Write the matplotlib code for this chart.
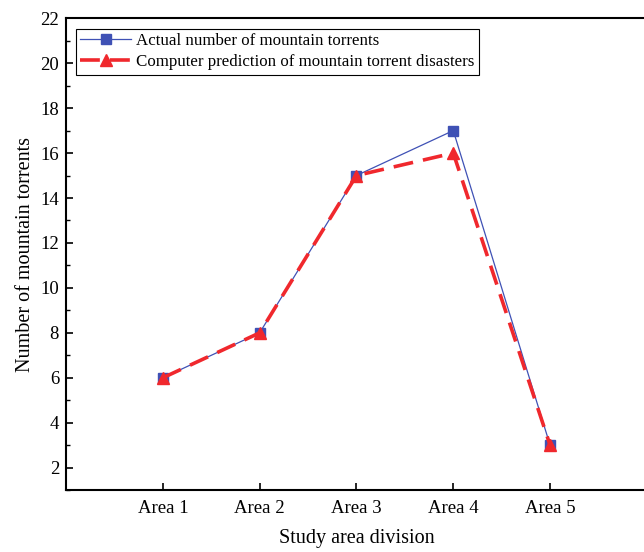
import matplotlib.pyplot as plt
from matplotlib.ticker import MultipleLocator

plt.rcParams['font.family'] = ['Liberation Serif', 'DejaVu Serif']

areas = ['Area 1', 'Area 2', 'Area 3', 'Area 4', 'Area 5']
actual = [6, 8, 15, 17, 3]
predicted = [6, 8, 15, 16, 3]

fig = plt.figure(figsize=(6.44, 5.52), dpi=100)
ax = fig.add_axes([0.1025, 0.112, 0.902, 0.855])

x = list(range(1, len(areas) + 1))
ax.plot(x, actual, color='#3f51b5', lw=0.9, marker='s', ms=7,
        label='Actual number of mountain torrents')
ax.plot(x, predicted, color='#f0282d', lw=2.6, ls=(0, (5.5, 2.8)), marker='^', ms=9,
        label='Computer prediction of mountain torrent disasters')

ax.set_xlim(0, 6)
ax.set_ylim(1, 22)
ax.set_xticks(x)
ax.set_xticklabels(areas)
ax.yaxis.set_major_locator(MultipleLocator(2))
ax.yaxis.set_minor_locator(MultipleLocator(1))
ax.tick_params(direction='in', labelsize=13.5, length=5, width=1.2)
ax.tick_params(axis='y', pad=5)
ax.tick_params(axis='x', pad=7)
ax.tick_params(which='minor', direction='in', length=3, width=1)
ax.tick_params(axis='y', which='both', right=False)
for s in ax.spines.values():
    s.set_linewidth(1.5)

ax.set_xlabel('Study area division', fontsize=14.5, labelpad=9)
ax.set_ylabel('Number of mountain torrents', fontsize=14.5, labelpad=4)

leg = ax.legend(loc='upper left', bbox_to_anchor=(0.017, 0.977), fontsize=12.2,
                fancybox=False, edgecolor='black', framealpha=1,
                handlelength=3.0, borderpad=0.25, labelspacing=0.3,
                handletextpad=0.3, borderaxespad=0)
leg.get_frame().set_linewidth(0.8)

fig.savefig('out.png', dpi=100)
